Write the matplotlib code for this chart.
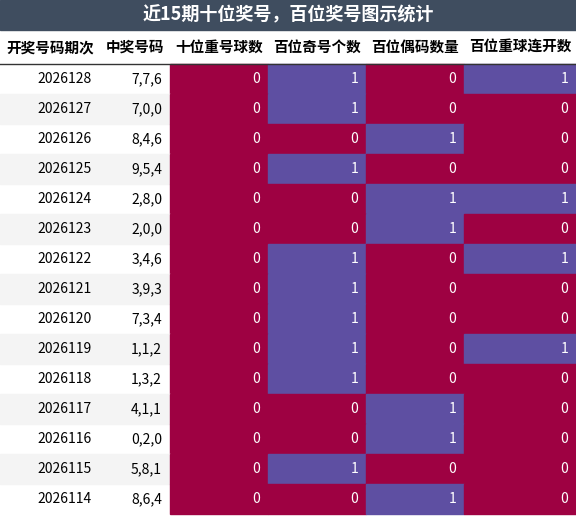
import matplotlib.pyplot as plt
from matplotlib.patches import Rectangle

plt.rcParams['font.family'] = ['Noto Sans CJK SC', 'DejaVu Sans']

title = "近15期十位奖号，百位奖号图示统计"
headers = ["开奖号码期次", "中奖号码", "十位重号球数", "百位奇号个数", "百位偶码数量", "百位重球连开数"]
issues = ["2026128", "2026127", "2026126", "2026125", "2026124", "2026123", "2026122", "2026121",
          "2026120", "2026119", "2026118", "2026117", "2026116", "2026115", "2026114"]
numbers = ["7,7,6", "7,0,0", "8,4,6", "9,5,4", "2,8,0", "2,0,0", "3,4,6", "3,9,3",
           "7,3,4", "1,1,2", "1,3,2", "4,1,1", "0,2,0", "5,8,1", "8,6,4"]
ten_repeat = [0] * 15
hund_odd = [1, 1, 0, 1, 0, 0, 1, 1, 1, 1, 1, 0, 0, 1, 0]
hund_even = [0, 0, 1, 0, 1, 1, 0, 0, 0, 0, 0, 1, 1, 0, 1]
hund_streak = [1, 0, 0, 0, 1, 0, 1, 0, 0, 1, 0, 0, 0, 0, 0]

W, H = 576, 516
fig = plt.figure(figsize=(W / 100, H / 100), dpi=100)
ax = fig.add_axes([0, 0, 1, 1])
ax.set_xlim(0, W)
ax.set_ylim(H, 0)
ax.axis('off')

edges = [0, 100, 170, 268, 366, 464, 576]
title_h, head_h, row_h = 30, 34, 30
colors = {0: '#9e0142', 1: '#5e4fa2'}

ax.add_patch(Rectangle((0, 0), W, title_h, color='#3f4d5f'))
ax.text(W / 2, title_h / 2, title, color='white', fontsize=13, fontweight='bold', ha='center', va='center')

for i, h in enumerate(headers):
    ax.text((edges[i] + edges[i + 1]) / 2, title_h + head_h / 2, h, fontsize=10.5,
            fontweight='bold', ha='center', va='center')
top = title_h + head_h
ax.plot([0, W], [top, top], color='#333333', lw=1)

cols = [ten_repeat, hund_odd, hund_even, hund_streak]
for r in range(len(issues)):
    y = top + r * row_h
    if r % 2 == 1:
        ax.add_patch(Rectangle((0, y), edges[2], row_h, color='#f4f4f4'))
    ax.text(edges[1] - 8, y + row_h / 2, issues[r], fontsize=10, ha='right', va='center')
    ax.text(edges[2] - 8, y + row_h / 2, numbers[r], fontsize=10, ha='right', va='center')
    for c, vals in enumerate(cols):
        x0, x1 = edges[c + 2], edges[c + 3]
        ax.add_patch(Rectangle((x0, y), x1 - x0, row_h, color=colors[vals[r]]))
        ax.text(x1 - 8, y + row_h / 2, str(vals[r]), color='white', fontsize=10, ha='right', va='center')

fig.savefig('out.png', dpi=100)
